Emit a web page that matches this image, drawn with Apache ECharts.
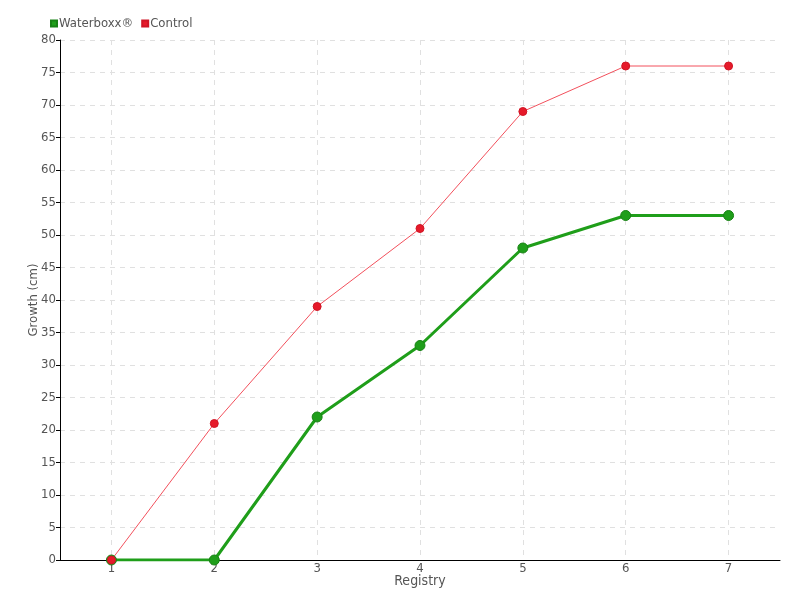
<!DOCTYPE html>
<html><head><meta charset="utf-8">
<script src="https://cdn.jsdelivr.net/npm/echarts@6/dist/echarts.min.js"></script>
<style>html,body{margin:0;padding:0;background:#fff}#c{width:800px;height:600px}</style>
</head><body><div id="c"></div>
<script>
const categories = ['1','2','3','4','5','6','7'];
const waterboxx = [0, 0, 22, 33, 48, 53, 53];
const control = [0, 21, 39, 51, 69, 76, 76];
const FONT = "'DejaVu Sans Condensed', 'DejaVu Sans', sans-serif";
const chart = echarts.init(document.getElementById('c'));
chart.setOption({
  animation: false,
  textStyle: {fontFamily: FONT},
  legend: {
    left: 45, top: 12, itemWidth: 6, itemHeight: 6, itemGap: 8, icon: 'rect',
    textStyle: {fontFamily: FONT, fontSize: 13, color: '#555', padding: [0,0,0,-3]},
    data: ['Waterboxx®', 'Control']
  },
  grid: {left: 60, right: 20, top: 40, bottom: 40},
  xAxis: {
    type: 'category', data: categories, boundaryGap: true,
    name: 'Registry', nameLocation: 'middle', nameGap: 14, nameMoveOverlap: false,
    nameTextStyle: {fontFamily: FONT, fontSize: 14, color: '#555'},
    axisLine: {lineStyle: {color: '#000'}},
    axisTick: {show: false},
    axisLabel: {fontFamily: FONT, fontSize: 13, color: '#555', margin: 2},
    splitLine: {show: true, alignWithLabel: true, lineStyle: {type: [5,5], color: '#e0e0e0'}}
  },
  yAxis: {
    type: 'value', min: 0, max: 80, interval: 5,
    name: 'Growth (cm)', nameLocation: 'middle', nameGap: 20, nameMoveOverlap: false,
    nameTextStyle: {fontFamily: FONT, fontSize: 13, color: '#555'},
    axisLine: {show: true, lineStyle: {color: '#000'}},
    axisTick: {show: true, length: 4, lineStyle: {color: '#000'}},
    axisLabel: {fontFamily: FONT, fontSize: 13, color: '#555', margin: 4},
    splitLine: {show: true, lineStyle: {type: [5,5], color: '#e0e0e0'}}
  },
  series: [
    {
      name: 'Waterboxx®', type: 'line', data: waterboxx,
      symbol: 'circle', symbolSize: 10,
      itemStyle: {color: '#1f9e1a', borderColor: '#178214', borderWidth: 1},
      lineStyle: {color: '#1f9e1a', width: 3}
    },
    {
      name: 'Control', type: 'line', data: control,
      symbol: 'circle', symbolSize: 8,
      itemStyle: {color: '#e61a2a', borderColor: '#d01525', borderWidth: 1},
      lineStyle: {color: '#f2505c', width: 1}
    }
  ]
});
</script></body></html>
